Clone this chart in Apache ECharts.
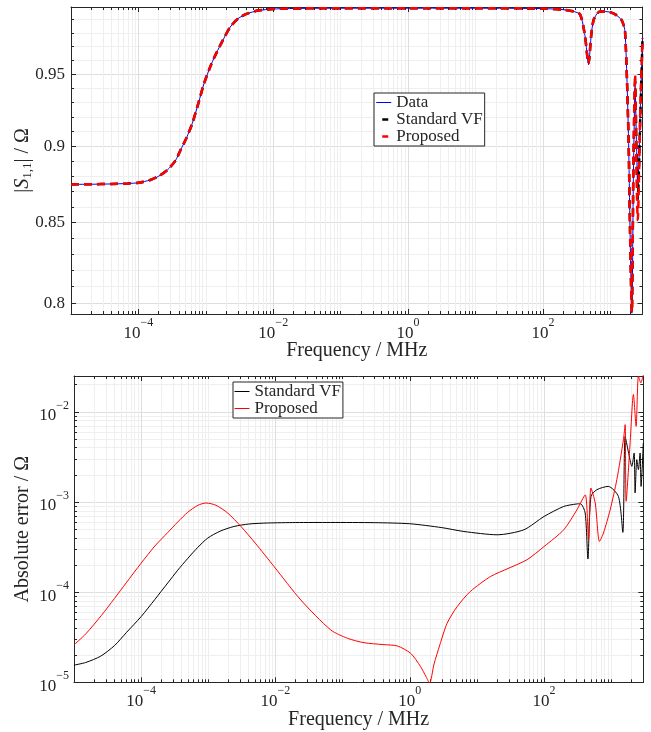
<!DOCTYPE html>
<html>
<head>
<meta charset="utf-8">
<script src="https://cdn.jsdelivr.net/npm/echarts@6/dist/echarts.min.js"></script>
<style>html,body{margin:0;padding:0;background:#fff;}#c{width:651px;height:732px;}</style>
</head>
<body>
<div id="c"></div>
<script>
// ---------- data ----------
const topFreq = [1e-5, 2e-5, 4e-5, 7e-5, 1e-4, 1.5e-4, 2e-4, 2.7e-4, 3.5e-4, 4.2e-4, 5.2e-4, 6.3e-4, 7.8e-4, 9.4e-4, 1.2e-3, 1.5e-3, 1.9e-3, 2.3e-3, 3e-3, 4.1e-3, 6e-3, 1e-2, 3e-2, 0.1, 1, 10, 100, 200, 280, 357, 420, 474, 520, 562, 630, 706, 850, 994, 1200, 1480, 1655, 1854, 1963, 2083, 2200, 2330, 2450, 2550, 2800, 3000];
const topData = [0.8746, 0.8747, 0.8749, 0.8752, 0.8757, 0.8775, 0.8800, 0.8842, 0.8900, 0.8973, 0.9060, 0.9156, 0.9300, 0.9434, 0.9570, 0.9672, 0.9770, 0.9843, 0.9905, 0.9942, 0.9965, 0.9977, 0.9982, 0.9983, 0.9983, 0.9983, 0.9980, 0.9972, 0.9960, 0.9935, 0.9780, 0.9576, 0.9780, 0.9892, 0.9940, 0.9959, 0.9958, 0.9953, 0.9935, 0.9892, 0.9806, 0.9088, 0.8430, 0.7940, 0.8800, 0.9410, 0.9000, 0.8708, 0.9300, 0.9758];
const topStdVF = [0.8746, 0.8747, 0.8749, 0.8752, 0.8757, 0.8775, 0.8800, 0.8842, 0.8900, 0.8973, 0.9060, 0.9156, 0.9300, 0.9434, 0.9570, 0.9672, 0.9770, 0.9843, 0.9905, 0.9942, 0.9965, 0.9977, 0.9982, 0.9983, 0.9983, 0.9983, 0.9980, 0.9972, 0.9960, 0.9935, 0.9780, 0.9576, 0.9780, 0.9892, 0.9940, 0.9959, 0.9958, 0.9953, 0.9935, 0.9892, 0.9806, 0.9088, 0.8430, 0.7945, 0.8850, 0.9450, 0.8950, 0.8650, 0.9250, 0.9750];
const topProposed = [0.8746, 0.8747, 0.8749, 0.8752, 0.8757, 0.8775, 0.8800, 0.8842, 0.8900, 0.8973, 0.9060, 0.9156, 0.9300, 0.9434, 0.9570, 0.9672, 0.9770, 0.9843, 0.9905, 0.9942, 0.9965, 0.9977, 0.9982, 0.9983, 0.9983, 0.9983, 0.9980, 0.9972, 0.9960, 0.9935, 0.9780, 0.9576, 0.9780, 0.9892, 0.9940, 0.9959, 0.9958, 0.9953, 0.9935, 0.9892, 0.9806, 0.9088, 0.8430, 0.7945, 0.8900, 0.9497, 0.8800, 0.8516, 0.9300, 0.9760];

const errStdFreq = [1e-5, 1.5e-5, 2.5e-5, 4e-5, 6e-5, 1e-4, 1.6e-4, 2.5e-4, 3.5e-4, 4.9e-4, 7e-4, 9.8e-4, 1.5e-3, 2.4e-3, 4e-3, 7.6e-3, 0.02, 0.066, 0.3, 1, 3, 6.4, 20, 50, 100, 196, 300, 347, 409, 449, 498, 611, 900, 1280, 1487, 1608, 1800, 2024, 2190, 2266, 2400, 2536, 2687, 2780, 3000];
const errStdVals = [1.55e-5, 1.66e-5, 1.95e-5, 2.55e-5, 3.55e-5, 5.36e-5, 8.3e-5, 1.27e-4, 1.75e-4, 2.35e-4, 3.15e-4, 3.98e-4, 4.75e-4, 5.35e-4, 5.7e-4, 5.85e-4, 5.92e-4, 5.93e-4, 5.9e-4, 5.74e-4, 5.2e-4, 4.71e-4, 4.33e-4, 4.92e-4, 6.92e-4, 8.93e-4, 9.5e-4, 9.57e-4, 7.55e-4, 2.33e-4, 1.15e-3, 1.37e-3, 1.49e-3, 1.15e-3, 4.6e-4, 5.36e-3, 3.6e-3, 2.49e-3, 3.5e-3, 1.26e-3, 2.95e-3, 2.29e-3, 3.5e-3, 1.49e-3, 4.5e-3];

const errPropFreq = [1e-5, 1.5e-5, 2.55e-5, 4e-5, 6e-5, 1e-4, 1.6e-4, 2.5e-4, 3.5e-4, 4.94e-4, 7e-4, 9.25e-4, 1.3e-3, 1.94e-3, 3.06e-3, 5e-3, 9.55e-3, 0.0238, 0.0665, 0.118, 0.208, 0.4, 0.652, 1.03, 1.45, 1.75, 1.97, 2.3, 2.8, 3.6, 5.08, 8, 15.9, 30, 55.7, 100, 196, 308, 409, 458, 498, 577, 668, 766, 963, 1211, 1518, 1610, 1665, 1909, 2138, 2344, 2536, 2754, 3000];
const errPropVals = [2.6e-5, 3.45e-5, 5.5e-5, 8.5e-5, 1.27e-4, 2.1e-4, 3.25e-4, 4.6e-4, 6.0e-4, 7.7e-4, 9.2e-4, 9.75e-4, 9.2e-4, 7.55e-4, 5.36e-4, 3.5e-4, 1.92e-4, 8.2e-5, 3.81e-5, 3.08e-5, 2.75e-5, 2.62e-5, 2.53e-5, 2.1e-5, 1.49e-5, 1.15e-5, 9.8e-6, 1.6e-5, 2.6e-5, 4.53e-5, 6.92e-5, 1.02e-4, 1.49e-4, 1.85e-4, 2.29e-4, 3.21e-4, 4.92e-4, 8.2e-4, 1.2e-3, 3.81e-4, 1.43e-3, 9.75e-4, 3.65e-4, 4.53e-4, 8.2e-4, 1.77e-3, 4.92e-3, 7.22e-3, 1.02e-3, 4.53e-3, 1.56e-2, 6.92e-3, 2.49e-2, 2.1e-2, 2.6e-2];

// tick labels / tick positions
const freqMajorTicks = [1e-4, 1e-2, 1, 100];
const topYMajorTicks = [0.8, 0.85, 0.9, 0.95];
const topYMinorTicks = [0.81, 0.82, 0.83, 0.84, 0.86, 0.87, 0.88, 0.89, 0.91, 0.92, 0.93, 0.94, 0.96, 0.97, 0.98, 0.99];
const errYMajorTicks = [1e-5, 1e-4, 1e-3, 1e-2];

// ---------- helpers ----------
const FONT = 'Liberation Serif';
const AX = '#262626';
const GRID_MAJOR = '#dedede';
const GRID_MINOR = '#efefef';

function logMinor(lo, hi, exclude) {
  const out = [];
  for (let k = -6; k <= 4; k++) {
    for (let n = 1; n <= 9; n++) {
      const v = +(n * Math.pow(10, k)).toPrecision(6);
      if (v >= lo && v <= hi && !exclude.some(e => Math.abs(e - v) / v < 1e-6)) out.push(v);
    }
  }
  return out;
}
const freqMinorTicks = logMinor(1e-5, 3000, freqMajorTicks);
const errYMinorTicks = logMinor(1e-5, 0.025, errYMajorTicks);

function powLabel(v) {
  const e = Math.round(Math.log10(v));
  return '{b|10}{e|' + (e < 0 ? '\u2212' + (-e) : e) + '}';
}
const powRich = {
  b: { fontFamily: FONT, fontSize: 17, color: AX, lineHeight: 25, verticalAlign: 'bottom' },
  e: { fontFamily: FONT, fontSize: 12, color: AX, lineHeight: 19, verticalAlign: 'top' }
};

function xAxes(gridIndex, min, max, name) {
  const base = { gridIndex, type: 'log', min, max, logBase: 10 };
  return [
    Object.assign({}, base, { position: 'bottom', axisLine: { show: false, onZero: false },
      axisTick: { show: true, inside: true, length: 3, customValues: freqMinorTicks, lineStyle: { color: AX } },
      axisLabel: { show: false }, splitLine: { show: true, lineStyle: { color: GRID_MINOR, width: 1 } } }),
    Object.assign({}, base, { position: 'top', axisLine: { show: true, onZero: false, lineStyle: { color: AX } },
      axisTick: { show: true, inside: true, length: 3, customValues: freqMinorTicks, lineStyle: { color: AX } },
      axisLabel: { show: false }, splitLine: { show: false } }),
    Object.assign({}, base, { position: 'top', axisLine: { show: false, onZero: false },
      axisTick: { show: true, inside: true, length: 5, customValues: freqMajorTicks, lineStyle: { color: AX } },
      axisLabel: { show: false }, splitLine: { show: false } }),
    Object.assign({}, base, { position: 'bottom', axisLine: { show: true, onZero: false, lineStyle: { color: AX } },
      axisTick: { show: true, inside: true, length: 5, customValues: freqMajorTicks, lineStyle: { color: AX } },
      axisLabel: { show: true, customValues: freqMajorTicks, formatter: powLabel, rich: powRich, margin: 3 },
      splitLine: { show: true, lineStyle: { color: GRID_MAJOR, width: 1 } },
      name: name, nameLocation: 'middle', nameGap: 27, nameMoveOverlap: false,
      nameTextStyle: { fontFamily: FONT, fontSize: 20, color: AX } })
  ];
}

function yAxes(gridIndex, min, max, major, minor, fmt, rich, name, nameGap, nameRich, labelMargin) {
  const base = { gridIndex, type: 'log', min, max, logBase: 10 };
  return [
    Object.assign({}, base, { position: 'left', axisLine: { show: false, onZero: false },
      axisTick: { show: true, inside: true, length: 3, customValues: minor, lineStyle: { color: AX } },
      axisLabel: { show: false }, splitLine: { show: true, lineStyle: { color: GRID_MINOR, width: 1 } } }),
    Object.assign({}, base, { position: 'right', axisLine: { show: true, onZero: false, lineStyle: { color: AX } },
      axisTick: { show: true, inside: true, length: 3, customValues: minor, lineStyle: { color: AX } },
      axisLabel: { show: false }, splitLine: { show: false } }),
    Object.assign({}, base, { position: 'right', axisLine: { show: false, onZero: false },
      axisTick: { show: true, inside: true, length: 5, customValues: major, lineStyle: { color: AX } },
      axisLabel: { show: false }, splitLine: { show: false } }),
    Object.assign({}, base, { position: 'left', axisLine: { show: true, onZero: false, lineStyle: { color: AX } },
      axisTick: { show: true, inside: true, length: 5, customValues: major, lineStyle: { color: AX } },
      axisLabel: { show: true, customValues: major, formatter: fmt, rich: rich, margin: labelMargin,
        fontFamily: FONT, fontSize: 17, color: AX },
      splitLine: { show: true, lineStyle: { color: GRID_MAJOR, width: 1 } },
      name: name, nameLocation: 'middle', nameRotate: 90, nameGap: nameGap, nameMoveOverlap: false,
      nameTextStyle: { fontFamily: FONT, fontSize: 20, color: AX, rich: nameRich } })
  ];
}

function pairs(xs, ys) { return xs.map((x, i) => [x, ys[i]]); }

const topYLabel = v => String(+(+v).toFixed(2));
const s11Rich = {
  a: { fontFamily: FONT, fontSize: 20, color: AX, lineHeight: 22, verticalAlign: 'middle' },
  i: { fontFamily: FONT, fontSize: 20, fontStyle: 'italic', color: AX, lineHeight: 22, verticalAlign: 'middle' },
  s: { fontFamily: FONT, fontSize: 13, color: AX, lineHeight: 11, verticalAlign: 'bottom' }
};

const xa = [].concat(
  xAxes(0, 1e-5, 3000, 'Frequency / MHz'),
  xAxes(1, 1e-5, 3000, 'Frequency / MHz')
);
const ya = [].concat(
  yAxes(0, 0.7935, 0.9992, topYMajorTicks, topYMinorTicks, topYLabel, undefined,
    '{a||}{i|S}{s|1,1}{a|| / \u03A9}', 37, s11Rich, 6),
  yAxes(1, 1e-5, 0.025, errYMajorTicks, errYMinorTicks, powLabel, powRich,
    'Absolute error / \u03A9', 41, undefined, 5)
);

const legendCommon = {
  orient: 'vertical', itemWidth: 15, itemHeight: 19, itemGap: 0,
  padding: [1, 2, 1, 1], borderColor: AX, borderWidth: 1, backgroundColor: '#fff',
  itemStyle: { opacity: 0 },
  textStyle: { fontFamily: FONT, fontSize: 17, color: AX }
};

const option = {
  animation: false,
  backgroundColor: '#fff',
  textStyle: { fontFamily: FONT },
  grid: [
    { left: 71, top: 7, width: 571.5, height: 307, show: false, containLabel: false, outerBoundsMode: 'none' },
    { left: 74, top: 376, width: 569.3, height: 306.3, show: false, containLabel: false, outerBoundsMode: 'none' }
  ],
  xAxis: xa,
  yAxis: ya,
  legend: [
    Object.assign({}, legendCommon, {
      left: 374, top: 93,
      data: [
        { name: 'Data', lineStyle: { color: '#0000ff', width: 1, type: 'solid' } },
        { name: 'Standard VF', lineStyle: { color: '#000000', width: 2.5, type: [6, 9], dashOffset: 9 } },
        { name: 'Proposed', lineStyle: { color: '#ff0000', width: 2.5, type: [6, 9], dashOffset: 9 } }
      ]
    }),
    Object.assign({}, legendCommon, {
      left: 233, top: 382,
      data: [
        { name: 'Standard VF', lineStyle: { color: '#000000', width: 1, type: 'solid' } },
        { name: 'Proposed', lineStyle: { color: '#ff0000', width: 1, type: 'solid' } }
      ]
    })
  ],
  series: [
    { name: 'Data', type: 'line', xAxisIndex: 3, yAxisIndex: 3, data: pairs(topFreq, topData),
      showSymbol: false, symbol: 'none', smooth: 0.25, z: 3,
      lineStyle: { color: '#0000ff', width: 1 }, itemStyle: { color: '#0000ff' } },
    { name: 'Standard VF', type: 'line', xAxisIndex: 3, yAxisIndex: 3, data: pairs(topFreq, topStdVF),
      showSymbol: false, symbol: 'none', smooth: 0.25, z: 4,
      lineStyle: { color: '#000000', width: 2.5, type: [8, 5] }, itemStyle: { color: '#000000' } },
    { name: 'Proposed', type: 'line', xAxisIndex: 3, yAxisIndex: 3, data: pairs(topFreq, topProposed),
      showSymbol: false, symbol: 'none', smooth: 0.25, z: 5,
      lineStyle: { color: '#ff0000', width: 2.5, type: [8, 5] }, itemStyle: { color: '#ff0000' } },
    { name: 'Standard VF', type: 'line', xAxisIndex: 7, yAxisIndex: 7, data: pairs(errStdFreq, errStdVals),
      showSymbol: false, symbol: 'none', smooth: 0.25, z: 4,
      lineStyle: { color: '#000000', width: 1 }, itemStyle: { color: '#000000' } },
    { name: 'Proposed', type: 'line', xAxisIndex: 7, yAxisIndex: 7, data: pairs(errPropFreq, errPropVals),
      showSymbol: false, symbol: 'none', smooth: 0.25, z: 5,
      lineStyle: { color: '#ff0000', width: 1 }, itemStyle: { color: '#ff0000' } }
  ]
};

const chart = echarts.init(document.getElementById('c'), null, { renderer: 'canvas' });
chart.setOption(option);
</script>
</body>
</html>
